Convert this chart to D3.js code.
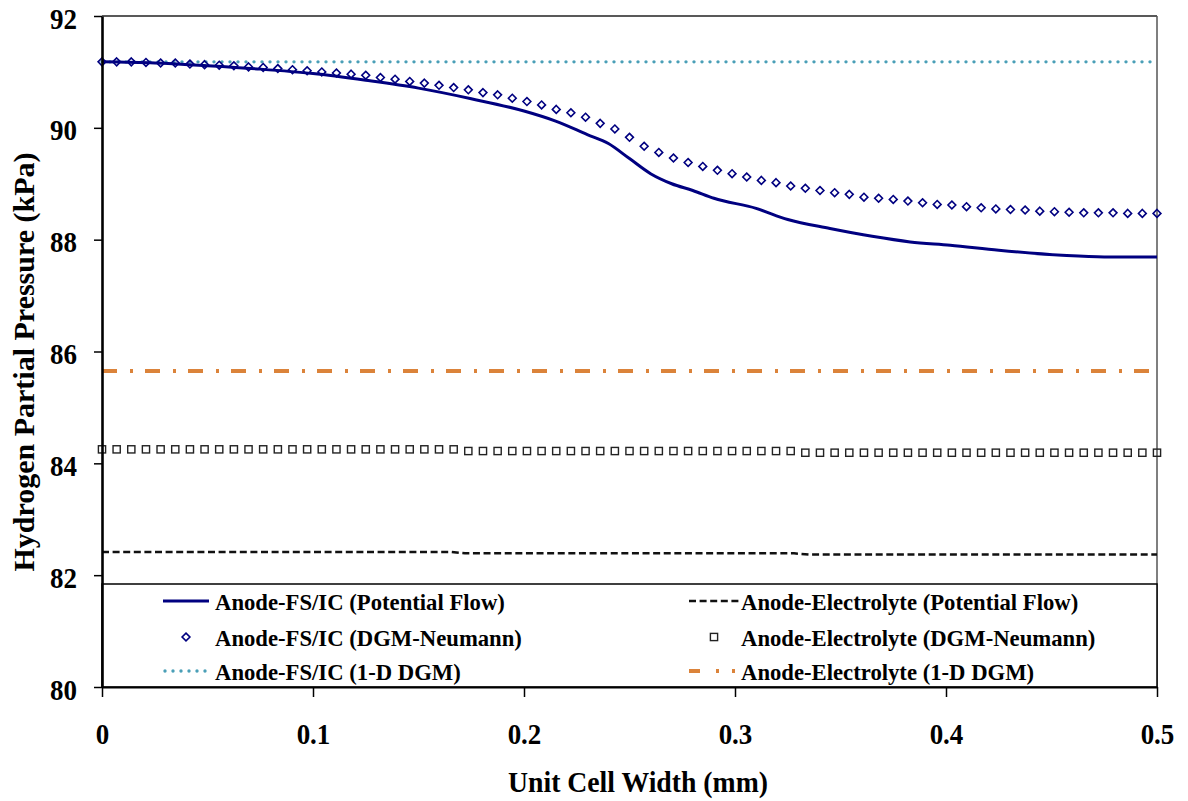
<!DOCTYPE html>
<html>
<head>
<meta charset="utf-8">
<script src="https://cdn.jsdelivr.net/npm/d3@7"></script>
<style>
  html, body { margin: 0; padding: 0; background: #fff; }
  svg text { font-family: "Liberation Serif", "Times New Roman", serif; font-weight: bold; fill: #000; }
</style>
</head>
<body>
<svg id="chart" width="1188" height="801"></svg>
<script>
// Axis ticks
const xTicks = [0, 0.1, 0.2, 0.3, 0.4, 0.5];
const yTicks = [80, 82, 84, 86, 88, 90, 92];

// Computational mesh along the unit cell width (mm): 73 nodes, 0 to 0.5
const meshX = d3.range(73).map(i => i / 144);

// Anode-FS/IC, potential flow (solid line)
const fsicPotentialX = [0, 0.025, 0.05, 0.075, 0.1, 0.125, 0.15, 0.175, 0.2, 0.215, 0.23, 0.24,
  0.25, 0.26, 0.27, 0.28, 0.29, 0.31, 0.325, 0.345, 0.365, 0.383, 0.402, 0.425, 0.455, 0.475, 0.5];
const fsicPotentialP = [91.18, 91.16, 91.11, 91.05, 90.97, 90.85, 90.71, 90.52, 90.30, 90.12, 89.88, 89.72,
  89.45, 89.18, 89.00, 88.88, 88.74, 88.56, 88.36, 88.20, 88.06, 87.96, 87.90, 87.81, 87.72, 87.69, 87.69];

// Anode-FS/IC, DGM-Neumann (diamonds on the mesh)
const fsicNeumannP = [
  91.18, 91.18, 91.18, 91.17, 91.16, 91.16, 91.14, 91.13, 91.12, 91.11,
  91.09, 91.08, 91.06, 91.04, 91.02, 91.00, 90.98, 90.96, 90.94, 90.90,
  90.87, 90.83, 90.80, 90.76, 90.72, 90.68, 90.63, 90.59, 90.53, 90.47,
  90.41, 90.33, 90.27, 90.19, 90.08, 89.98, 89.83, 89.67, 89.56, 89.46,
  89.38, 89.31, 89.24, 89.18, 89.12, 89.06, 89.02, 88.96, 88.92, 88.88,
  88.84, 88.81, 88.76, 88.74, 88.72, 88.69, 88.66, 88.63, 88.62, 88.59,
  88.57, 88.55, 88.54, 88.53, 88.51, 88.50, 88.49, 88.48, 88.48, 88.48,
  88.47, 88.47, 88.47];

// Anode-FS/IC, 1-D DGM (constant)
const fsic1dX = [0, 0.5];
const fsic1dP = [91.18, 91.18];

// Anode-Electrolyte, potential flow (dashed line)
const elecPotentialX = [0, 0.165, 0.172, 0.328, 0.335, 0.5];
const elecPotentialP = [82.415, 82.415, 82.39, 82.39, 82.37, 82.37];

// Anode-Electrolyte, DGM-Neumann (squares on the mesh)
const elecNeumannP = [
  84.25, 84.25, 84.25, 84.25, 84.25, 84.25, 84.25, 84.25, 84.25, 84.25,
  84.25, 84.25, 84.25, 84.25, 84.25, 84.25, 84.25, 84.25, 84.25, 84.25,
  84.25, 84.25, 84.25, 84.25, 84.25, 84.22, 84.22, 84.22, 84.22, 84.22,
  84.22, 84.22, 84.22, 84.22, 84.22, 84.22, 84.22, 84.22, 84.22, 84.22,
  84.22, 84.22, 84.22, 84.22, 84.22, 84.22, 84.22, 84.22, 84.19, 84.19,
  84.19, 84.19, 84.19, 84.19, 84.19, 84.19, 84.19, 84.19, 84.19, 84.19,
  84.19, 84.19, 84.19, 84.19, 84.19, 84.19, 84.19, 84.19, 84.19, 84.19,
  84.19, 84.19, 84.19];

// Anode-Electrolyte, 1-D DGM (constant)
const elec1dX = [0, 0.5];
const elec1dP = [85.65, 85.65];

const legendLabels = [
  "Anode-FS/IC (Potential Flow)", "Anode-Electrolyte (Potential Flow)",
  "Anode-FS/IC (DGM-Neumann)", "Anode-Electrolyte (DGM-Neumann)",
  "Anode-FS/IC (1-D DGM)", "Anode-Electrolyte (1-D DGM)"
];

// ---- drawing ----
const svg = d3.select("#chart");
const x = d3.scaleLinear().domain([0, 0.5]).range([102, 1157]);
const y = d3.scaleLinear().domain([80, 92]).range([687, 16]);

const NAVY = "#000080", TEAL = "#4a9fb7", ORANGE = "#db833a", INK = "#111";

const zip = (xs, ys) => xs.map((v, i) => [v, ys[i]]);
const line = d3.line().x(d => x(d[0])).y(d => y(d[1]));

const plot = svg.append("g");

// plot frame (top and right)
plot.append("line").attr("x1", x(0)).attr("x2", x(0.5)).attr("y1", y(92)).attr("y2", y(92))
  .attr("stroke", "#222").attr("stroke-width", 1.5);
plot.append("line").attr("x1", x(0.5)).attr("x2", x(0.5)).attr("y1", y(92)).attr("y2", y(80))
  .attr("stroke", "#555").attr("stroke-width", 1.5);

// electrolyte series
plot.append("path").attr("d", line(zip(elec1dX, elec1dP)))
  .attr("fill", "none").attr("stroke", ORANGE).attr("stroke-width", 4)
  .attr("stroke-dasharray", "15 13 3 12");
plot.append("g").selectAll("rect").data(zip(meshX, elecNeumannP)).join("rect")
  .attr("x", d => x(d[0]) - 3.6).attr("y", d => y(d[1]) - 3.6)
  .attr("width", 7.2).attr("height", 7.2)
  .attr("fill", "none").attr("stroke", "#222").attr("stroke-width", 1.4);
plot.append("path").attr("d", line(zip(elecPotentialX, elecPotentialP)))
  .attr("fill", "none").attr("stroke", INK).attr("stroke-width", 2.5)
  .attr("stroke-dasharray", "7 3.6");

// FS/IC series
plot.append("path").attr("d", line(zip(fsic1dX, fsic1dP)))
  .attr("fill", "none").attr("stroke", TEAL).attr("stroke-width", 3.4)
  .attr("stroke-linecap", "round").attr("stroke-dasharray", "0 8");
plot.append("path").attr("d", d3.line().curve(d3.curveMonotoneX).x(d => x(d[0])).y(d => y(d[1]))(zip(fsicPotentialX, fsicPotentialP)))
  .attr("fill", "none").attr("stroke", NAVY).attr("stroke-width", 3);
const diamond = "M0,-3.9L3.9,0L0,3.9L-3.9,0Z";
plot.append("g").selectAll("path").data(zip(meshX, fsicNeumannP)).join("path")
  .attr("transform", d => `translate(${x(d[0])},${y(d[1])})`)
  .attr("d", diamond)
  .attr("fill", "none").attr("stroke", NAVY).attr("stroke-width", 1.6);

// legend box inside the plot area
const lg = svg.append("g");
lg.append("rect").attr("x", x(0)).attr("y", 584).attr("width", x(0.5) - x(0)).attr("height", y(80) - 584)
  .attr("fill", "#fff").attr("stroke", "#000").attr("stroke-width", 1.5);

const rowY = [601, 637, 671];
const colSample = [[163, 209], [689, 739]];
const colText = [215, 741];
const sampleStyles = [
  {type: "line", stroke: NAVY, width: 3, dash: null},
  {type: "line", stroke: INK, width: 2.5, dash: "7 3.6"},
  {type: "diamond"},
  {type: "square"},
  {type: "line", stroke: TEAL, width: 3.4, dash: "0 8", cap: "round"},
  {type: "line", stroke: ORANGE, width: 4, dash: "11 16 3 13 3 100"}
];
legendLabels.forEach((label, i) => {
  const col = i % 2, row = Math.floor(i / 2);
  const [sx1, sx2] = colSample[col];
  const cy = rowY[row];
  const s = sampleStyles[i];
  if (s.type === "line") {
    lg.append("line").attr("x1", sx1 + (s.cap ? 2 : 0)).attr("x2", sx2).attr("y1", cy).attr("y2", cy)
      .attr("stroke", s.stroke).attr("stroke-width", s.width)
      .attr("stroke-dasharray", s.dash).attr("stroke-linecap", s.cap || "butt");
  } else if (s.type === "diamond") {
    lg.append("path").attr("transform", `translate(${(sx1 + sx2) / 2},${cy})`).attr("d", diamond)
      .attr("fill", "none").attr("stroke", NAVY).attr("stroke-width", 1.6);
  } else {
    const cx = (sx1 + sx2) / 2;
    lg.append("rect").attr("x", cx - 3.6).attr("y", cy - 3.6).attr("width", 7.2).attr("height", 7.2)
      .attr("fill", "none").attr("stroke", "#222").attr("stroke-width", 1.4);
  }
  lg.append("text").attr("x", colText[col]).attr("y", cy + 9)
    .attr("font-size", 22.7).text(label);
});

// axes
const sx = 0.9;
const yAxis = svg.append("g").attr("transform", `translate(${x(0)},0)`)
  .call(d3.axisLeft(y).tickValues(yTicks).tickSize(8).tickSizeOuter(0).tickFormat(d3.format("d")));
yAxis.select(".domain").attr("stroke", "#000").attr("stroke-width", 2.6);
yAxis.selectAll(".tick line").attr("stroke", "#000").attr("stroke-width", 1.5);
yAxis.selectAll(".tick text")
  .attr("x", -25 / sx).attr("dy", "0.4em")
  .attr("transform", `scale(${sx},1)`)
  .style("font-size", "30px");

const xAxis = svg.append("g").attr("transform", `translate(0,${y(80)})`)
  .call(d3.axisBottom(x).tickValues(xTicks).tickSize(10).tickSizeOuter(0)
    .tickFormat(d => d === 0 ? "0" : d3.format(".1f")(d)));
xAxis.select(".domain").attr("stroke", "#000").attr("stroke-width", 2);
xAxis.selectAll(".tick line").attr("stroke", "#000").attr("stroke-width", 1.5);
xAxis.selectAll(".tick text")
  .attr("x", 0).attr("y", 57).attr("dy", 0)
  .attr("transform", `scale(${sx},1)`)
  .style("font-size", "30px");
d3.selectAll("g[font-family]").attr("font-family", null).attr("font-size", null);

// axis titles
svg.append("text").attr("x", 638).attr("y", 792).attr("text-anchor", "middle")
  .attr("font-size", 30).attr("textLength", 260).attr("lengthAdjust", "spacingAndGlyphs")
  .text("Unit Cell Width (mm)");
svg.append("text").attr("transform", "translate(34,362) rotate(-90)").attr("text-anchor", "middle")
  .attr("font-size", 30).text("Hydrogen Partial Pressure (kPa)");
</script>
</body>
</html>
